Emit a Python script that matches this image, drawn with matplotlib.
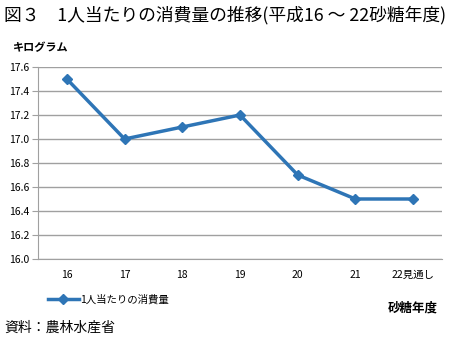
import matplotlib.pyplot as plt

plt.rcParams['font.family'] = ['Noto Sans CJK JP', 'DejaVu Sans']

years = ["16", "17", "18", "19", "20", "21", "22見通し"]
consumption = [17.5, 17.0, 17.1, 17.2, 16.7, 16.5, 16.5]
yticks = [16.0, 16.2, 16.4, 16.6, 16.8, 17.0, 17.2, 17.4, 17.6]

fig = plt.figure(figsize=(4.49, 3.40), dpi=100)
ax = fig.add_axes([38 / 449, 1 - 259 / 340, 404 / 449, 192 / 340])

x = range(len(years))
ax.plot(x, consumption, color="#2E75B6", linewidth=2.5, marker="D",
        markersize=5, label="1人当たりの消費量")

ax.set_xlim(-0.5, len(years) - 0.5)
ax.set_ylim(16.0, 17.6)
ax.set_yticks(yticks)
ax.set_yticklabels([f"{v:.1f}" for v in yticks], fontsize=7.5)
ax.set_xticks(list(x))
ax.set_xticklabels(years, fontsize=7.5)
ax.grid(axis="y", color="#A0A0A0", linewidth=1)
ax.set_axisbelow(True)
for s in ["top", "right"]:
    ax.spines[s].set_visible(False)
ax.spines["left"].set_color("#A0A0A0")
ax.spines["bottom"].set_color("#A0A0A0")
ax.tick_params(axis="y", length=4, color="#A0A0A0", pad=2)
ax.tick_params(axis="x", length=0, pad=8)

fig.text(0.01, 0.955, "図３　1人当たりの消費量の推移(平成16 ～ 22砂糖年度)",
         fontsize=12.8, va="center", ha="left")
fig.text(0.03, 0.86, "キログラム", fontsize=8, fontweight="bold",
         va="center")
fig.text(0.975, 0.095, "砂糖年度", fontsize=9, fontweight="bold",
         va="center", ha="right")
fig.text(0.01, 0.035, "資料：農林水産省", fontsize=10, va="center")

fig.legend(loc="center left", bbox_to_anchor=(0.085, 0.12), frameon=False,
           fontsize=7.5, handlelength=3, handletextpad=0.1)

fig.savefig("out.png", dpi=100)
